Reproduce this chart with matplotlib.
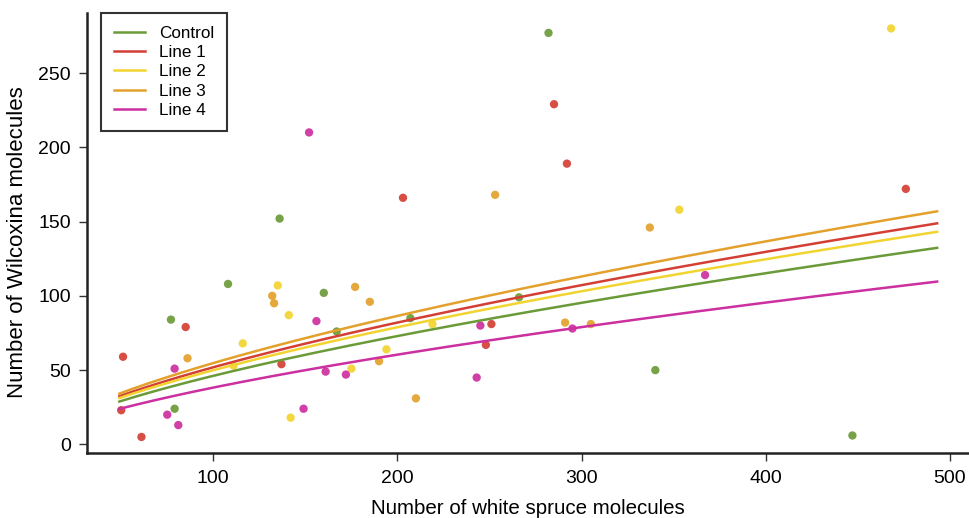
import numpy as np
import matplotlib
matplotlib.use("Agg")
import matplotlib.pyplot as plt

plt.rcParams['font.family'] = ['Liberation Sans', 'DejaVu Sans']

# groups and colours
groups = ["Control", "Line 1", "Line 2", "Line 3", "Line 4"]
colors = ["#6b9a38", "#d43f35", "#f2d431", "#e3a12c", "#cc2f9f"]

# points (white spruce, Wilcoxina)
control_x = [79, 77, 108, 136, 160, 167, 207, 266, 282, 340, 447]
control_y = [24, 84, 108, 152, 102, 76, 85, 99, 277, 50, 6]
line1_x = [50, 51, 61, 85, 137, 203, 251, 248, 285, 292, 476]
line1_y = [23, 59, 5, 79, 54, 166, 81, 67, 229, 189, 172]
line2_x = [116, 111, 135, 141, 142, 175, 194, 219, 353, 468]
line2_y = [68, 53, 107, 87, 18, 51, 64, 81, 158, 280]
line3_x = [86, 132, 133, 177, 185, 190, 210, 253, 291, 305, 337]
line3_y = [58, 100, 95, 106, 96, 56, 31, 168, 82, 81, 146]
line4_x = [75, 81, 79, 149, 156, 152, 161, 172, 245, 243, 295, 367]
line4_y = [20, 13, 51, 24, 83, 210, 49, 47, 80, 45, 78, 114]

xs = [control_x, line1_x, line2_x, line3_x, line4_x]
ys = [control_y, line1_y, line2_y, line3_y, line4_y]

# fitted curves: y = end_value * (x / x_end) ** exponent
fit_end = [132.3, 148.8, 143.1, 156.9, 109.6]
fit_exponent = 0.66
fit_x_start = 49
fit_x_end = 493

fig = plt.figure(figsize=(9.69, 5.18), dpi=100)
ax = fig.add_axes([0.0901, 0.1249, 0.9099, 0.85])

curve_x = np.linspace(fit_x_start, fit_x_end, 200)
for i in range(len(groups)):
    ax.scatter(xs[i], ys[i], s=36, color=colors[i], alpha=0.92,
               edgecolors='none', zorder=2)
for i in range(len(groups)):
    ax.plot(curve_x, fit_end[i] * (curve_x / fit_x_end) ** fit_exponent,
            color=colors[i], lw=1.8, label=groups[i], zorder=3)

ax.set_xlim(31.6, 510.3)
ax.set_ylim(-6, 290.4)
ax.set_xticks([100, 200, 300, 400, 500])
ax.set_yticks([0, 50, 100, 150, 200, 250])
ax.tick_params(labelsize=14, length=6, width=1.0, color='#333333', pad=6)
for side in ['top', 'right']:
    ax.spines[side].set_visible(False)
for side in ['left', 'bottom']:
    ax.spines[side].set_linewidth(1.8)
    ax.spines[side].set_color('#222222')

ax.set_xlabel("Number of white spruce molecules", fontsize=14.8, labelpad=9)
ax.set_ylabel("Number of Wilcoxina molecules", fontsize=16)
ax.yaxis.set_label_coords(-0.0673, 0.48)

leg = ax.legend(loc='upper left', bbox_to_anchor=(0.0155, 1.0), borderaxespad=0,
                fontsize=12.3, frameon=True, fancybox=False, handlelength=1.8,
                handletextpad=0.85, labelspacing=0.25, borderpad=0.75)
leg.get_frame().set_edgecolor('black')
leg.get_frame().set_linewidth(1.5)

fig.savefig("out.png", dpi=100)
